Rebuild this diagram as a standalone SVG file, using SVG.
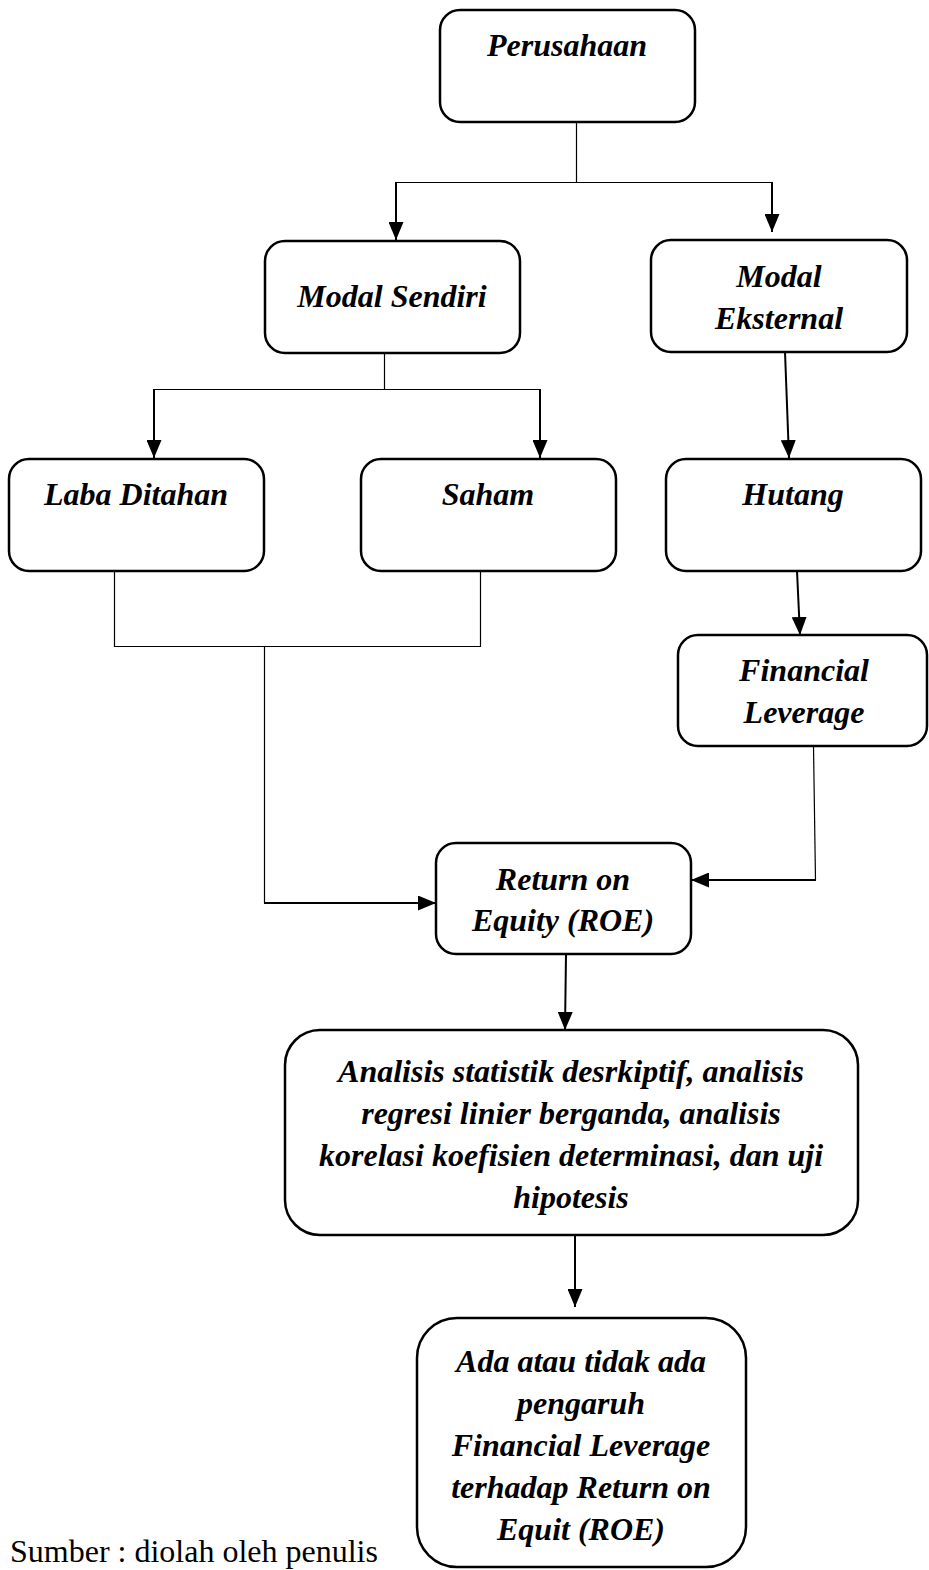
<svg xmlns="http://www.w3.org/2000/svg" width="929" height="1570" viewBox="0 0 929 1570">
<style>
.box{fill:#fff;stroke:#000;stroke-width:2.5}
.t{font-family:"Liberation Serif","Times New Roman",serif;font-weight:bold;font-style:italic;font-size:32px;text-anchor:middle;fill:#000}
.thin{fill:none;stroke:#000;stroke-width:1.2}
.arr{fill:none;stroke:#000;stroke-width:2;marker-end:url(#ah)}
.src{font-family:"Liberation Serif","Times New Roman",serif;font-size:32px;fill:#000}
</style>
<defs>
<marker id="ah" markerUnits="userSpaceOnUse" markerWidth="18" markerHeight="15" refX="18" refY="7.5" orient="auto" viewBox="0 0 18 15">
<path d="M0,0 L18,7.5 L0,15 Z" fill="#000"/>
</marker>
</defs>
<g id="connectors">
<polyline class="thin" points="576.5,122 576.5,182.5"/>
<polyline class="thin" points="396,182.5 772,182.5"/>
<polyline class="arr" points="396,182 396,240"/>
<polyline class="arr" points="772,182 772,232"/>
<polyline class="thin" points="384.5,353 384.5,389.5"/>
<polyline class="thin" points="154,389.5 540,389.5"/>
<polyline class="arr" points="154,389 154,458"/>
<polyline class="arr" points="540,389 540,458"/>
<line class="arr" x1="785" y1="352" x2="789" y2="458"/>
<line class="arr" x1="797" y1="571" x2="800" y2="635"/>
<polyline class="thin" points="114.5,571 114.5,646.5 480.5,646.5 480.5,571"/>
<polyline class="thin" points="264.5,646 264.5,903"/>
<polyline class="arr" points="264,903 436,903"/>
<polyline class="thin" points="813.5,746 815.5,880"/>
<polyline class="arr" points="816,880 691,880"/>
<line class="arr" x1="566" y1="954" x2="565" y2="1030"/>
<line class="arr" x1="575" y1="1235" x2="575" y2="1307"/>
</g>
<g id="perusahaan">
<rect class="box" x="440" y="10" width="255" height="112" rx="20"/>
<text class="t" x="567" y="56">Perusahaan</text>
</g>
<g id="modal-sendiri">
<rect class="box" x="265" y="241" width="255" height="112" rx="20"/>
<text class="t" x="392" y="307">Modal Sendiri</text>
</g>
<g id="modal-eksternal">
<rect class="box" x="651" y="240" width="256" height="112" rx="20"/>
<text class="t" x="779" y="287">Modal</text>
<text class="t" x="779" y="329">Eksternal</text>
</g>
<g id="laba-ditahan">
<rect class="box" x="9" y="459" width="255" height="112" rx="20"/>
<text class="t" x="136" y="505">Laba Ditahan</text>
</g>
<g id="saham">
<rect class="box" x="361" y="459" width="255" height="112" rx="20"/>
<text class="t" x="488" y="505">Saham</text>
</g>
<g id="hutang">
<rect class="box" x="666" y="459" width="255" height="112" rx="20"/>
<text class="t" x="793" y="505">Hutang</text>
</g>
<g id="financial-leverage">
<rect class="box" x="678" y="635" width="249" height="111" rx="20"/>
<text class="t" x="804" y="681">Financial</text>
<text class="t" x="804" y="723">Leverage</text>
</g>
<g id="roe">
<rect class="box" x="436" y="843" width="255" height="111" rx="20"/>
<text class="t" x="563" y="890">Return on</text>
<text class="t" x="563" y="931">Equity (ROE)</text>
</g>
<g id="analisis">
<rect class="box" x="285" y="1030" width="573" height="205" rx="35"/>
<text class="t" x="571" y="1082">Analisis statistik desrkiptif, analisis</text>
<text class="t" x="571" y="1124">regresi linier berganda, analisis</text>
<text class="t" x="571" y="1166">korelasi koefisien determinasi, dan uji</text>
<text class="t" x="571" y="1208">hipotesis</text>
</g>
<g id="kesimpulan">
<rect class="box" x="417" y="1318" width="329" height="249" rx="40"/>
<text class="t" x="581" y="1372">Ada atau tidak ada</text>
<text class="t" x="581" y="1414">pengaruh</text>
<text class="t" x="581" y="1456">Financial Leverage</text>
<text class="t" x="581" y="1498">terhadap Return on</text>
<text class="t" x="581" y="1540">Equit (ROE)</text>
</g>
<text class="src" x="10" y="1562">Sumber : diolah oleh penulis</text>
</svg>
